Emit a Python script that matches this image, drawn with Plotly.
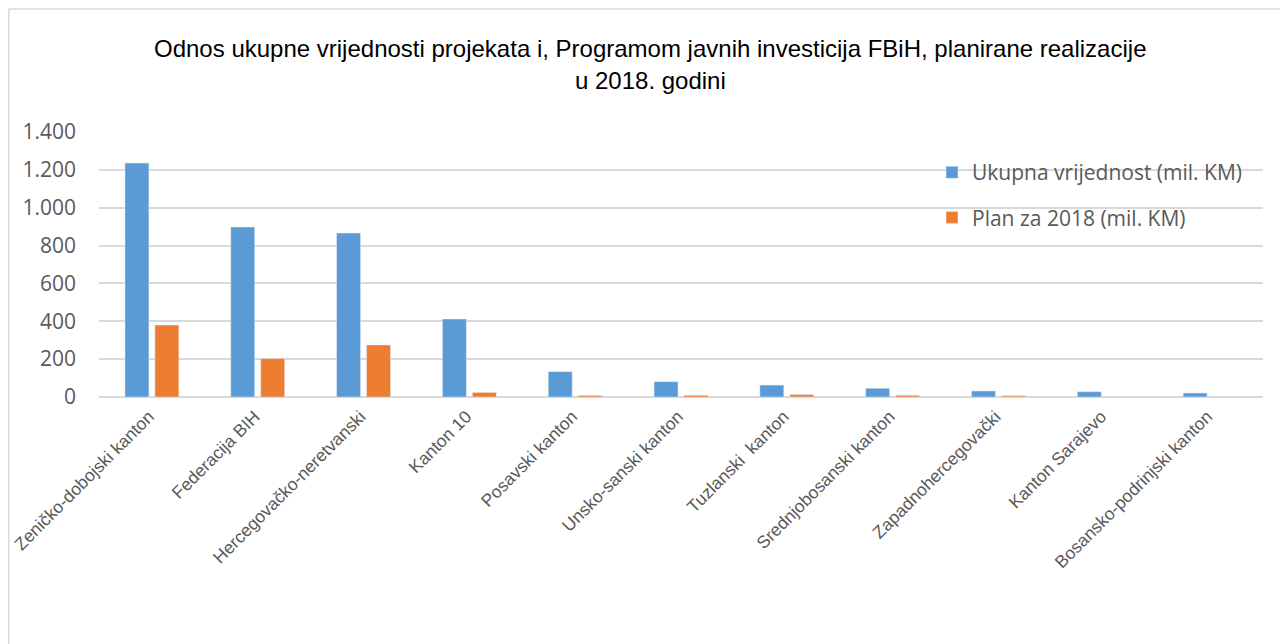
import plotly.graph_objects as go

categories = ["Zeničko-dobojski kanton", "Federacija BIH", "Hercegovačko-neretvanski",
              "Kanton 10", "Posavski kanton", "Unsko-sanski kanton", "Tuzlanski  kanton",
              "Srednjobosanski kanton", "Zapadnohercegovački", "Kanton Sarajevo",
              "Bosansko-podrinjski kanton"]
ukupna = [1236, 898, 866, 412, 134, 81, 63, 46, 32, 28, 21]
plan = [380, 203, 275, 24, 8, 9, 13, 9, 7, 1, 2]
title_lines = ["Odnos ukupne vrijednosti projekata i, Programom javnih investicija FBiH, planirane realizacije",
               "u 2018. godini"]

L, R, T, B = 91, 33, 124, 255
W, H = 1288, 644
PW, PH = W - L - R, H - T - B

def px(x):
    return (x - L) / PW

def py(y):
    return (H - B - y) / PH

fig = go.Figure()
fig.add_trace(go.Bar(name="Ukupna vrijednost (mil. KM)", x=categories, y=ukupna,
                     marker=dict(color="#5b9bd5"), legendgroup="a"))
fig.add_trace(go.Bar(name="Plan za 2018 (mil. KM)", x=categories, y=plan,
                     marker=dict(color="#ed7d31"), legendgroup="b"))

title_font = dict(family="Liberation Sans, Arial", size=24, color="#000000")
annotations = [
    dict(text=title_lines[0], xref="paper", yref="paper", x=px(642), y=py(40),
         xanchor="center", yanchor="middle", showarrow=False, font=title_font),
    dict(text=title_lines[1], xref="paper", yref="paper", x=px(642), y=py(72),
         xanchor="center", yanchor="middle", showarrow=False, font=title_font),
]

fig.update_layout(
    width=W, height=H,
    paper_bgcolor="white", plot_bgcolor="white",
    margin=dict(l=L, r=R, t=T, b=B, autoexpand=False),
    separators=",.",
    barmode="group", bargap=0.434, bargroupgap=0.2,
    annotations=annotations,
    legend=dict(x=px(924), y=0.924, xanchor="left", yanchor="top",
                font=dict(family="Open Sans, Noto Sans", size=21, color="#595959"),
                tracegroupgap=15, traceorder="grouped", bgcolor="rgba(0,0,0,0)"),
    xaxis=dict(tickangle=-45, showgrid=False, showline=False, ticks="", ticklabelshift=-3,
               ticklabelstandoff=5, automargin=False,
               tickfont=dict(family="Liberation Sans, Arial", size=17.5, color="#595959")),
    yaxis=dict(range=[0, 1400], dtick=200, tickformat=",", showgrid=True, automargin=False,
               gridcolor="#d9d9d9", gridwidth=1.5, zeroline=True, zerolinecolor="#d9d9d9",
               zerolinewidth=1.5, ticks="", ticklabelstandoff=22,
               tickfont=dict(family="Open Sans, Noto Sans", size=21, color="#595959")),
    shapes=[
        dict(type="line", xref="paper", yref="paper", x0=px(0.75), x1=px(W), y0=py(1), y1=py(1),
             line=dict(color="#d9d9d9", width=1.5), layer="below"),
        dict(type="line", xref="paper", yref="paper", x0=px(0.75), x1=px(0.75), y0=py(1), y1=py(H),
             line=dict(color="#d9d9d9", width=1.5), layer="below"),
    ],
)

fig.write_html("out.html")
